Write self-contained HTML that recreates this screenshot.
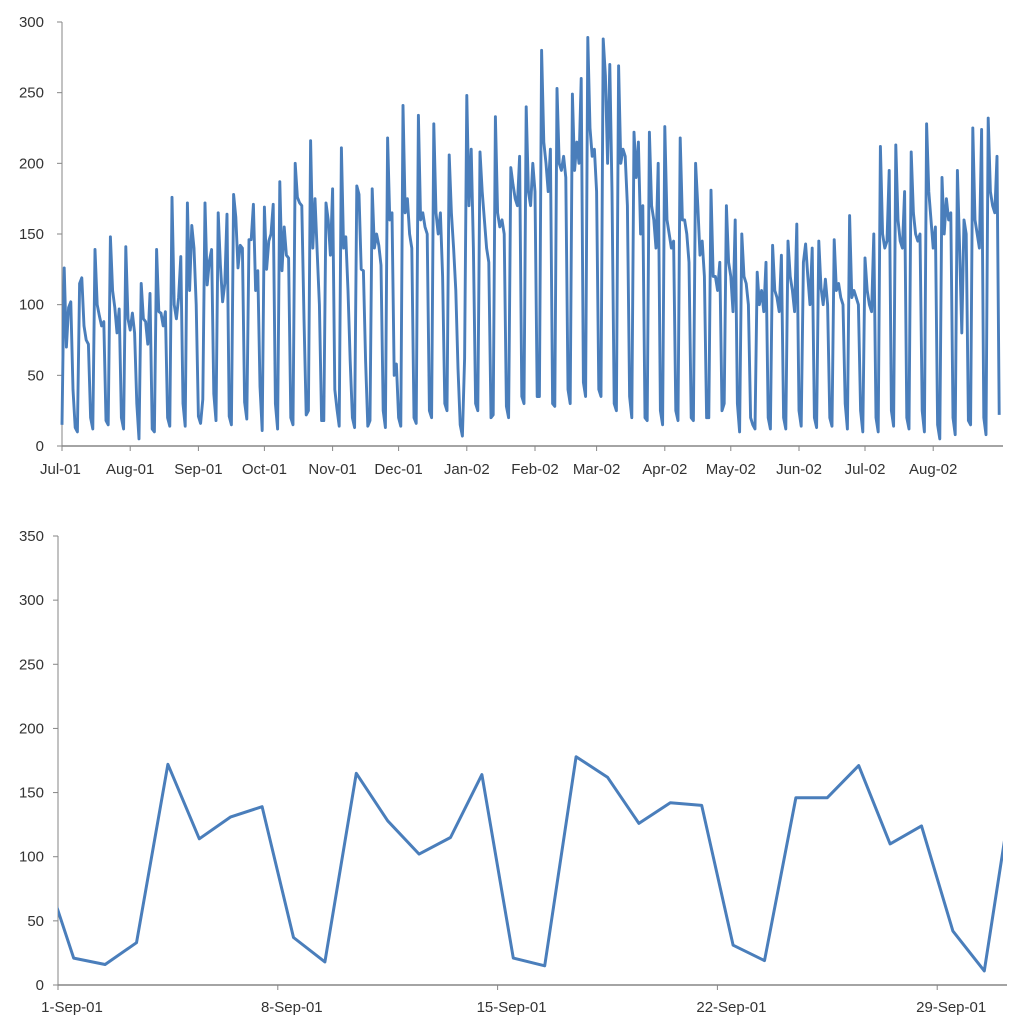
<!DOCTYPE html>
<html><head><meta charset="utf-8"><style>
html,body{margin:0;padding:0;background:#fff;}
svg{display:block;font-family:"Liberation Sans",sans-serif;}
text{fill:#333;font-size:15px;}
</style></head><body>
<svg id="svg" width="1024" height="1034"></svg>
<script>
const topMonthLabels = ["Jul-01","Aug-01","Sep-01","Oct-01","Nov-01","Dec-01","Jan-02","Feb-02","Mar-02","Apr-02","May-02","Jun-02","Jul-02","Aug-02"];
const topMonthStartDays = [0,31,62,92,123,153,184,215,243,274,304,335,365,396];
const topYTicks = [0,50,100,150,200,250,300];
const topWeeks = [
[15,126,70,98,102,40,13],[10,115,119,85,75,72,20],[12,139,100,92,85,88,18],[15,148,110,98,80,97,20],
[12,141,90,82,94,80,30],[5,115,90,88,72,108,12],[10,139,95,94,85,95,20],[14,176,100,90,105,134,30],
[14,172,110,156,140,100,21],[16,33,172,114,131,139,37],[18,165,128,102,115,164,21],[15,178,162,126,142,140,31],
[19,146,146,171,110,124,42],[11,169,125,145,150,171,30],[12,187,124,155,135,133,20],[15,200,176,172,170,90,22],
[25,216,140,175,137,100,18],[18,172,160,135,182,40,26],[14,211,140,148,110,60,20],[13,184,178,125,124,60,14],
[18,182,140,150,142,128,25],[13,218,160,165,50,58,20],[14,241,165,175,150,140,20],[16,234,160,165,155,150,25],
[20,228,165,150,165,120,30],[25,206,165,140,110,55,15],[7,62,248,170,210,140,30],[25,208,180,160,140,130,20],
[22,233,165,155,160,150,28],[20,197,185,175,170,205,35],[30,240,180,170,200,180,35],[35,280,215,200,180,210,30],
[28,253,200,195,205,190,40],[30,249,195,215,200,260,45],[35,289,225,205,210,180,40],[35,288,262,200,270,180,30],
[25,269,200,210,205,170,35],[20,222,190,215,150,170,20],[18,222,170,160,140,200,25],[15,226,160,150,140,145,25],
[18,218,160,160,150,130,20],[18,200,170,135,145,120,20],[20,181,120,120,110,130,25],[30,170,130,120,95,160,30],
[10,150,120,115,100,20,15],[12,123,100,110,95,130,20],[12,142,110,105,95,135,20],[12,145,120,110,95,157,25],
[14,130,143,120,100,140,20],[13,145,112,100,118,100,20],[14,146,110,115,105,100,30],[12,163,105,110,105,100,25],
[10,133,110,100,95,150,20],[10,212,150,140,145,195,25],[14,213,160,145,140,180,20],[12,208,165,150,145,150,25],
[10,228,180,160,140,155,15],[5,190,150,175,160,165,20],[8,195,140,80,160,150,18],[15,225,160,150,140,224,20],
[8,232,180,170,165,205,22]
];
const botDays = ["31-Aug","1-Sep","2-Sep","3-Sep","4-Sep","5-Sep","6-Sep","7-Sep","8-Sep","9-Sep","10-Sep","11-Sep","12-Sep","13-Sep","14-Sep","15-Sep","16-Sep","17-Sep","18-Sep","19-Sep","20-Sep","21-Sep","22-Sep","23-Sep","24-Sep","25-Sep","26-Sep","27-Sep","28-Sep","29-Sep","30-Sep","1-Oct"];
const botValues = [95,21,16,33,172,114,131,139,37,18,165,128,102,115,164,21,15,178,162,126,142,140,31,19,146,146,171,110,124,42,11,169];
const botXLabels = ["1-Sep-01","8-Sep-01","15-Sep-01","22-Sep-01","29-Sep-01"];
const botYTicks = [0,50,100,150,200,250,300,350];

const NS="http://www.w3.org/2000/svg";
const svg=document.getElementById('svg');
function mk(tag,attrs,parent){const e=document.createElementNS(NS,tag);for(const k in attrs)e.setAttribute(k,attrs[k]);(parent||svg).appendChild(e);return e;}

const tX0=62,tX1=1003,tY0=446,tY1=22,tDayPx=2.2;
const tx=d=>tX0+d*tDayPx, ty=v=>tY0-(v/300)*(tY0-tY1);
const topG=mk('g',{});


topYTicks.forEach(v=>{
  const t=mk('text',{x:44,y:ty(v)+5,'text-anchor':'end'},topG);t.textContent=v;
  
  
  const l=mk('line',{x1:tX0-5,x2:tX0,y1:ty(v),y2:ty(v),stroke:'#868686'},topG);
  
  
});
const ya=mk('line',{x1:tX0,x2:tX0,y1:tY1,y2:tY0,stroke:'#868686','stroke-width':1},topG);


const xa=mk('line',{x1:tX0,x2:tX1,y1:tY0,y2:tY0,stroke:'#868686','stroke-width':1.5},topG);


topMonthLabels.forEach((lab,i)=>{
  const x=tx(topMonthStartDays[i]);
  const l=mk('line',{x1:x,x2:x,y1:tY0,y2:tY0+5,stroke:'#868686'},topG);
  
  
  const t=mk('text',{x:x,y:474,'text-anchor':i==0?'start':'middle'},topG);t.textContent=lab;
  if(i==0)t.setAttribute('x',x-22);
  
  
});
const topVals=[].concat(...topWeeks);
const tp=mk('path',{d:topVals.map((v,i)=>(i?'L':'M')+tx(i).toFixed(1)+','+ty(v).toFixed(1)).join(''),fill:'none',stroke:'#4a7ebb','stroke-width':2.9,'stroke-linejoin':'round'},topG);



const bX0=58,bX1=1003,bY0=985,bY1=536,bDayPx=31.4;
const bx=i=>bX0+(i-0.5)*bDayPx, by=v=>bY0-(v/350)*(bY0-bY1);
const botG=mk('g',{});


mk('clipPath',{id:'bclip'},botG).appendChild((()=>{const r=document.createElementNS(NS,'rect');r.setAttribute('x',bX0);r.setAttribute('y',bY1-5);r.setAttribute('width',bX1-bX0);r.setAttribute('height',bY0-bY1+10);return r;})());
botYTicks.forEach(v=>{
  const t=mk('text',{x:44,y:by(v)+5,'text-anchor':'end'},botG);t.textContent=v;
  
  
  const l=mk('line',{x1:bX0-5,x2:bX0,y1:by(v),y2:by(v),stroke:'#868686'},botG);
  
  
});
const bya=mk('line',{x1:bX0,x2:bX0,y1:bY1,y2:bY0,stroke:'#868686'},botG);


const bxa=mk('line',{x1:bX0,x2:1007,y1:bY0,y2:bY0,stroke:'#868686','stroke-width':1.5},botG);


botXLabels.forEach((lab,k)=>{
  const x=bX0+k*7*bDayPx;
  const l=mk('line',{x1:x,x2:x,y1:bY0,y2:bY0+5,stroke:'#868686'},botG);
  
  
  const t=mk('text',{x:x+14,y:1012,'text-anchor':'middle'},botG);t.textContent=lab;
  
  
});
const bp=mk('path',{d:botValues.map((v,i)=>(i?'L':'M')+bx(i).toFixed(1)+','+by(v).toFixed(1)).join(''),fill:'none',stroke:'#4a7ebb','stroke-width':3,'stroke-linejoin':'round','clip-path':'url(#bclip)'},botG);


</script>
</body></html>
